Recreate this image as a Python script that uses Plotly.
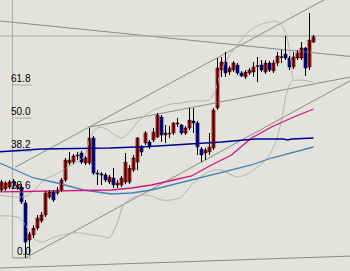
import plotly.graph_objects as go

# ---- data (screen rows, 0 = top, 271 = bottom) ----
ROWS = 271
opens = [190,189,187,181,188,187,203,240,235,228,221,215,197,192,193,190,180,163,162,156,
         153,163,163,138,173,174,175,182,178,185,185,182,182,170,162,147,143,142,140,137,
         117,135,134,133,124,125,133,128,121,123,149,153,152,148,108,70,62,72,70,65,
         73,77,73,72,66.5,65,72,63,71,63,57.5,54,58,67,58,58,48,67,42]
closes = [182,183,182,186,185,202,242,234,228,218,215,193,192,200,190,180,160,160,156,155,
          162,158,138,173,174,175,180,177,185,183,178,162,168,158,138,152,133,147,132,115,
          135,133,133,123,123,133,128,120,123,147,155,150,147,110,68,62,73,68,63,73,
          76,72,70,67,66,70,63,70,63,56,57,58,67,57,53,48,68,40,36]
highs = [180,181,180,179,183,184,200,232,225,215,212,191,190,190,187,178,158,152,154,152,
         151,156,128,136,170,172,173,175,168,180,176,153,165,155,137,145,131,140,128,113,
         115,125,126,122,118,124,126,108,108,121,147,148,133,108,58,57,52,66,61,63,
         71,70,68,62,57,60,60,61,60,52,50,36,56,52,50,42,47,13,35]
lows = [192,191,189,188,190,204,258,255,238,230,223,217,199,202,195,192,182,165,164,160,
        164,165,165,175,185,185,182,184,188,188,187,184,184,172,170,156,145,149,142,138,
        142,143,138,135,127,135,135,130,133,155,162,160,155,150,110,77,77,75,72,75,
        77,79,75,77,82,72,74,72,73,66,63,60,70,69,60,60,76,70,43]
bars = list(range(len(opens)))

def price(r):
    return ROWS - r

# moving averages / bands: (bar position, screen row)
navy_x = [-1, 10, 27, 37, 47, 55, 63.5, 70.5, 71.5, 72.5, 78]
navy_r = [152, 149, 148, 146.5, 144, 142, 139, 139, 140, 139, 138]
mag_x = [-1, 15, 27.5, 32.5, 37.5, 43, 47.5, 52.5, 57.5, 62.5, 67.5, 72.5, 78]
mag_r = [192, 191, 190, 188, 185, 180, 176, 165, 155, 138, 127, 118, 109]
stb_x = [-1, 8, 14, 20.5, 27.5, 32.5, 37.5, 42.5, 47.5, 52.5, 57.5, 62.5, 67.5, 72.5, 78]
stb_r = [162, 178, 183, 190, 194, 193, 190, 185, 180, 175, 170, 165, 158, 153, 147]
bbu_x = [-1, 3.75, 6.25, 8.75, 10.5, 13.75, 16.25, 18.75, 20.75, 22, 23.25, 24.5, 26.25, 28,
         30, 32, 34, 36, 38, 40, 42.5, 45, 47.5, 50, 52, 53.5, 55, 57, 59, 61, 63, 65, 67,
         68.75, 70.25, 71.25, 72, 72.5, 73, 75, 78]
bbu_r = [195, 197, 196, 188, 180, 174, 168, 162, 156, 140, 130, 127, 129, 134, 138, 132, 122,
         115, 110, 107, 104, 103, 101, 101, 100, 90, 70, 55, 45, 35, 28, 24, 22, 21, 26, 36,
         50, 65, 80, 80, 82]
bbl_x = [-1, 2.5, 4.5, 6.5, 8.5, 10.5, 12.5, 15, 17.5, 20, 22.5, 25, 27, 28.75, 30.5, 32.5,
         35, 37.5, 40, 42.5, 45, 47.5, 49.5, 51.25, 53, 55, 57, 59, 61, 63, 65, 67, 68.75,
         70, 71, 72, 73]
bbl_r = [216, 216, 218, 228, 240, 242, 238, 235, 233, 233, 235, 236, 238, 225, 205, 198, 195,
         196, 200, 200, 197, 185, 178, 173, 170, 170, 174, 177, 175, 170, 164, 155, 140, 120,
         98, 85, 80]

# drawn objects: anchor points (bar position, screen row)
trend_lines = [
    ([-1, 88], [20.7, 56.8], '#8a8a8a'),      # descending line from top-left
    ([-1, 88], [36, 36], '#a8a8a8'),          # horizontal price line
    ([3.5, 84.75], [167, -9], '#8a8a8a'),     # upper channel
    ([21.75, 88], [127.3, 76.4], '#8a8a8a'),  # middle channel
    ([6, 88], [258, 79], '#8a8a8a'),          # lower channel
    ([-1, 88], [268.1, 256], '#8a8a8a'),      # bottom line
]

fib_low_row, fib_high_row = 258, -21.9
fib_levels = [0.0, 23.6, 38.2, 50.0, 61.8]
fib_x0, fib_x1 = 2.75, 7.5

fig = go.Figure()

for xs, rs, col in trend_lines:
    fig.add_trace(go.Scatter(x=xs, y=[price(r) for r in rs], mode='lines',
                             line=dict(color=col, width=1), hoverinfo='skip'))

# fibonacci retracement
fib_y = lambda lv: price(fib_low_row) + (price(fib_high_row) - price(fib_low_row)) * lv / 100
fig.add_trace(go.Scatter(x=[fib_x0, fib_x0, 6], y=[ROWS + 5, price(fib_low_row), price(fib_low_row)],
                         mode='lines', line=dict(color='#a8a8a8', width=1)))
for lv in fib_levels:
    fig.add_trace(go.Scatter(x=[fib_x0, fib_x1], y=[fib_y(lv)] * 2, mode='lines',
                             line=dict(color='#a8a8a8', width=1)))
    fig.add_annotation(x=fib_x1, y=fib_y(lv), text=f"{lv:.1f}", showarrow=False,
                       xanchor='right', yanchor='bottom', xshift=1, yshift=-1,
                       font=dict(family='Liberation Sans, Arial', size=10, color='black'))

# bands
fig.add_trace(go.Scatter(x=bbu_x, y=[price(r) for r in bbu_r], mode='lines',
                         line=dict(color='#b2b2b2', width=1, shape='spline', smoothing=0.6)))
fig.add_trace(go.Scatter(x=bbl_x, y=[price(r) for r in bbl_r], mode='lines',
                         line=dict(color='#b2b2b2', width=1, shape='spline', smoothing=0.6)))

# moving averages
fig.add_trace(go.Scatter(x=stb_x, y=[price(r) for r in stb_r], mode='lines',
                         line=dict(color='#4682b4', width=1.3)))
fig.add_trace(go.Scatter(x=mag_x, y=[price(r) for r in mag_r], mode='lines',
                         line=dict(color='#d0157f', width=1.3)))
fig.add_trace(go.Scatter(x=navy_x, y=[price(r) for r in navy_r], mode='lines',
                         line=dict(color='#000090', width=1.5)))

# candles: wicks then bodies
wx, wy = [], []
for b, h, l in zip(bars, highs, lows):
    wx += [b, b, None]
    wy += [price(h), price(l), None]
fig.add_trace(go.Scatter(x=wx, y=wy, mode='lines', line=dict(color='black', width=1)))

base, height, colors = [], [], []
for o, c in zip(opens, closes):
    top, bot = min(o, c), max(o, c)
    base.append(price(bot))
    height.append(max(bot - top, 1))
    colors.append('#ff0000' if c < o else '#0000ff')
fig.add_trace(go.Bar(x=bars, y=height, base=base, width=0.78,
                     marker=dict(color=colors, line=dict(color='black', width=0.5))))

fig.update_layout(
    width=350, height=271, margin=dict(l=0, r=0, t=0, b=0),
    paper_bgcolor='#e3e2dc', plot_bgcolor='#e3e2dc',
    showlegend=False, barmode='overlay',
    xaxis=dict(range=[-0.375, 87.125], visible=False, fixedrange=True),
    yaxis=dict(range=[0, ROWS], visible=False, fixedrange=True),
)
fig.write_html("out.html")
